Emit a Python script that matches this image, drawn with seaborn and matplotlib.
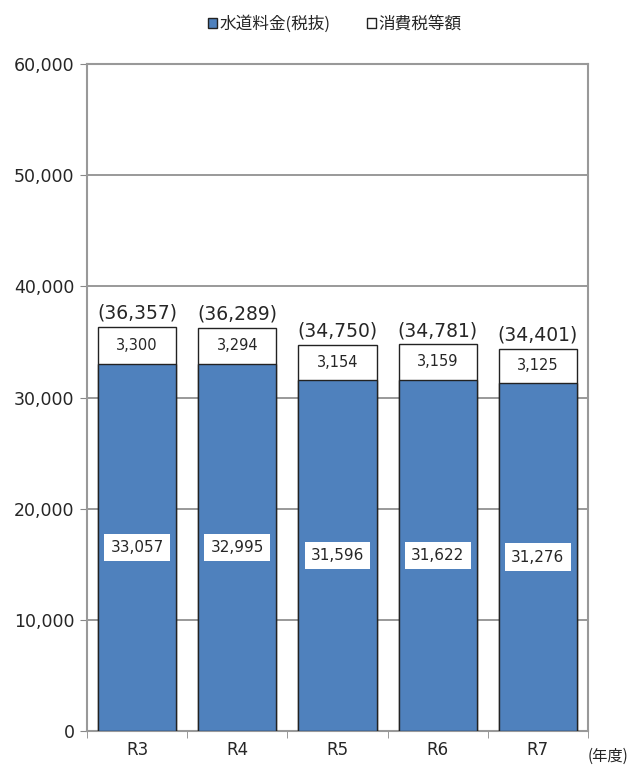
import matplotlib
matplotlib.use('Agg')
import matplotlib.pyplot as plt
import seaborn as sns
import pandas as pd
from matplotlib.patches import Patch

years = ['R3', 'R4', 'R5', 'R6', 'R7']
water_fee = [33057, 32995, 31596, 31622, 31276]
tax = [3300, 3294, 3154, 3159, 3125]
total = [36357, 36289, 34750, 34781, 34401]

BLUE = '#4F81BD'
JP = ['Noto Sans CJK JP', 'DejaVu Sans']


def main():
    sns.set_style('white')
    plt.rcParams['font.family'] = ['DejaVu Sans', 'Noto Sans CJK JP']

    df = pd.DataFrame({'year': years, 'water': water_fee, 'tax': tax, 'total': total})

    fig = plt.figure(figsize=(6.32, 7.65), dpi=100)
    ax = fig.add_axes([0.1377, 0.0444, 0.7927, 0.8719])

    # stacked: total in white underneath, water fee in blue on top
    sns.barplot(data=df, x='year', y='total', color='white', edgecolor='#222222',
                linewidth=1.0, width=0.78, saturation=1, ax=ax, zorder=3)
    sns.barplot(data=df, x='year', y='water', color=BLUE, edgecolor='#222222',
                linewidth=1.0, width=0.78, saturation=1, ax=ax, zorder=4)

    ax.set_ylim(0, 60000)
    ax.set_yticks(range(0, 60001, 10000))
    ax.set_yticklabels([f'{v:,}' for v in range(0, 60001, 10000)], fontsize=12.5)
    ax.set_xlim(-0.5, len(years) - 0.5)
    ax.tick_params(axis='x', labelsize=12, length=0, pad=7)
    ax.tick_params(axis='y', length=5, color='#888888', direction='out', pad=4, left=True)
    ax.set_xticks([i + 0.5 for i in range(-1, len(years))], minor=True)
    ax.tick_params(axis='x', which='minor', length=5, color='#888888', bottom=True)
    ax.set_xlabel('')
    ax.set_ylabel('')
    ax.grid(axis='y', color='#888888', linewidth=1.2, zorder=0)
    ax.set_axisbelow(True)
    for s in ax.spines.values():
        s.set_color('#999999')
        s.set_linewidth(1.5)

    for i in range(len(years)):
        ax.text(i, water_fee[i] / 2, f'{water_fee[i]:,}', ha='center', va='center', fontsize=11,
                zorder=6, bbox=dict(facecolor='white', edgecolor='none', pad=4.5))
        ax.text(i, water_fee[i] + tax[i] / 2, f'{tax[i]:,}', ha='center', va='center',
                fontsize=10.5, zorder=6)
        ax.text(i, total[i] + 350, f'({total[i]:,})', ha='center', va='bottom', fontsize=13.5, zorder=6)

    ax.text(1.0, -0.038, '(年度)', transform=ax.transAxes, ha='left', va='center',
            fontsize=11, family=JP)

    handles = [Patch(facecolor=BLUE, edgecolor='#222222', label='水道料金(税抜)'),
               Patch(facecolor='white', edgecolor='#222222', label='消費税等額')]
    fig.legend(handles=handles, loc='upper center', bbox_to_anchor=(0.53, 1.0), ncol=2,
               frameon=False, prop={'family': JP, 'size': 12}, handlelength=0.55,
               handleheight=0.55, handletextpad=0.15, columnspacing=2.2)

    plt.savefig('out.png', dpi=100)


if __name__ == '__main__':
    main()
